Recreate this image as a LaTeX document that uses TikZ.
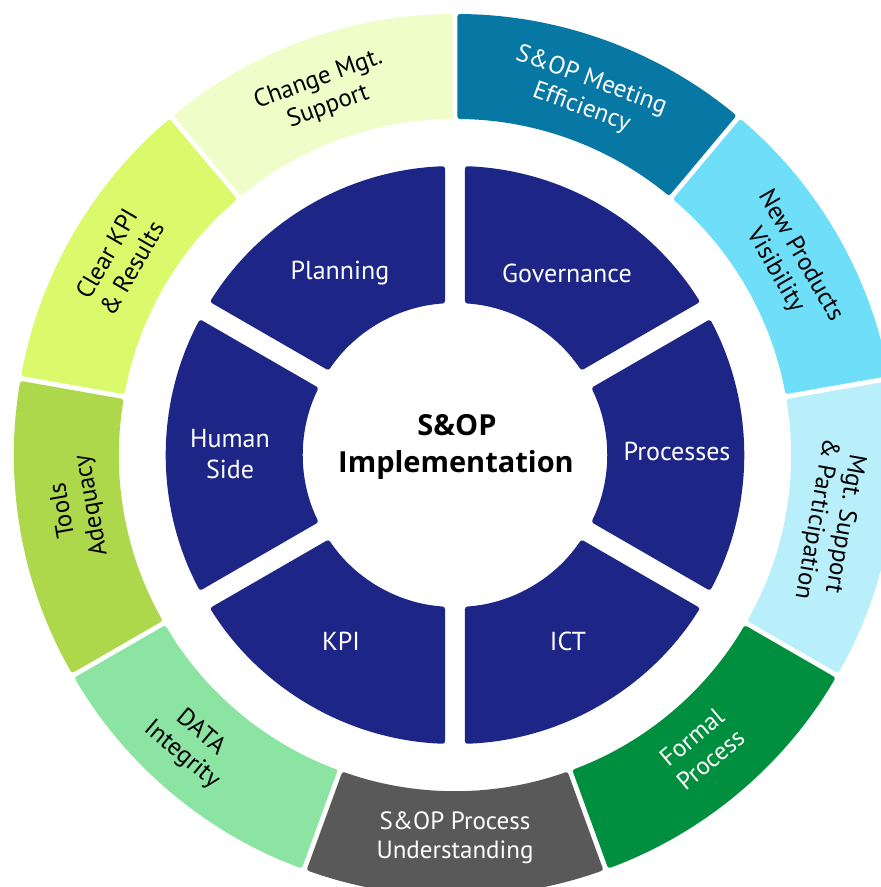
\documentclass[tikz,border=0pt]{standalone}
\usepackage{fontspec}
\setmainfont{PT Sans}
\newfontfamily\titlefont{Open Sans}
\definecolor{navy}{HTML}{1D2687}
\definecolor{cChange}{HTML}{EFFDC9}
\definecolor{cClear}{HTML}{DAF96B}
\definecolor{cTools}{HTML}{AED84B}
\definecolor{cData}{HTML}{8CE4A3}
\definecolor{cUnder}{HTML}{595959}
\definecolor{cFormal}{HTML}{008F3E}
\definecolor{cMgt}{HTML}{B8EFFA}
\definecolor{cNew}{HTML}{6FDEF8}
\definecolor{cMeet}{HTML}{0778A3}
% annular sector with parallel-sided gaps:
% #1 start angle, #2 end angle, #3 inner radius, #4 outer radius, #5 half gap, #6 fill
\newcommand{\ringsector}[6]{%
  \pgfmathsetmacro{\rsdo}{asin(#5/#4)}%
  \pgfmathsetmacro{\rsdi}{asin(#5/#3)}%
  \pgfmathsetmacro{\rsos}{#1+\rsdo}\pgfmathsetmacro{\rsoe}{#2-\rsdo}%
  \pgfmathsetmacro{\rsis}{#1+\rsdi}\pgfmathsetmacro{\rsie}{#2-\rsdi}%
  \fill[#6, rounded corners=2.5pt] (\rsos:#4)
    arc[start angle=\rsos, end angle=\rsoe, radius=#4]
    -- (\rsie:#3)
    arc[start angle=\rsie, end angle=\rsis, radius=#3] -- cycle;}
\begin{document}
\begin{tikzpicture}[x=1pt,y=1pt,
  lbl/.style={align=center, font=\fontsize{25}{29}\selectfont, inner sep=0pt},
  darklbl/.style={lbl, text=white},
  lightlbl/.style={lbl, text=black},
  inlbl/.style={lbl, text=white, font=\fontsize{26}{31}\selectfont},
  title/.style={font=\titlefont\fontsize{29}{37}\bfseries\selectfont, inner sep=0pt}]
\useasboundingbox (-455,-432) rectangle (426,455);
\clip (-455,-432) rectangle (426,455);

% outer ring of nine factors
\ringsector{90}{130}{336}{441}{2.5}{cChange}
\ringsector{130}{170}{336}{441}{2.5}{cClear}
\ringsector{170}{210}{336}{441}{2.5}{cTools}
\ringsector{210}{250}{336}{441}{2.5}{cData}
\ringsector{250}{290}{336}{441}{2.5}{cUnder}
\ringsector{290}{330}{336}{441}{2.5}{cFormal}
\ringsector{330}{370}{336}{441}{2.5}{cMgt}
\ringsector{10}{50}{336}{441}{2.5}{cNew}
\ringsector{50}{90}{336}{441}{2.5}{cMeet}

% inner ring of six pillars
\ringsector{90}{150}{152}{289}{10}{navy}
\ringsector{150}{210}{152}{289}{10}{navy}
\ringsector{210}{270}{152}{289}{10}{navy}
\ringsector{270}{330}{152}{289}{10}{navy}
\ringsector{330}{390}{152}{289}{10}{navy}
\ringsector{30}{90}{152}{289}{10}{navy}

% outer labels
\node[lightlbl, rotate=20]   (change) at (110:385) {Change Mgt.\\Support};
\node[darklbl, rotate=-20]   (meet)   at (70:384)  {S\&OP Meeting\\Efficiency};
\node[lightlbl, rotate=-60]  (newp)   at (30:384)  {New Products\\Visibility};
\node[lightlbl, rotate=-100] (mgt)    at (-10:381) {Mgt. Support\\\& Participation};
\node[darklbl, rotate=40]    (formal) at (-50:383) {Formal\\Process};
\node[darklbl]               (under)  at (-90:383) {S\&OP Process\\Understanding};
\node[lightlbl, rotate=-40]  (data)   at (-264,-289) {DATA\\Integrity};
\node[lightlbl, rotate=100]  (tools)  at (188:381) {Tools\\Adequacy};
\node[lightlbl, rotate=60]   (clear)  at (150:388) {Clear KPI\\\& Results};

% inner labels
\node[inlbl] (planning) at (-115,182) {Planning};
\node[inlbl] (gov)      at (112,182)  {Governance};
\node[inlbl] (proc)     at (222,4)    {Processes};
\node[inlbl] (ict)      at (113,-186) {ICT};
\node[inlbl] (kpi)      at (-114,-186) {KPI};
\node[inlbl] (human)    at (-225,1)   {Human\\Side};

% centre title
\node[title, anchor=base] (titleA) at (2,20)  {S\&OP};
\node[title, anchor=base] (titleB) at (1,-17) {Implementation};
\end{tikzpicture}
\end{document}
